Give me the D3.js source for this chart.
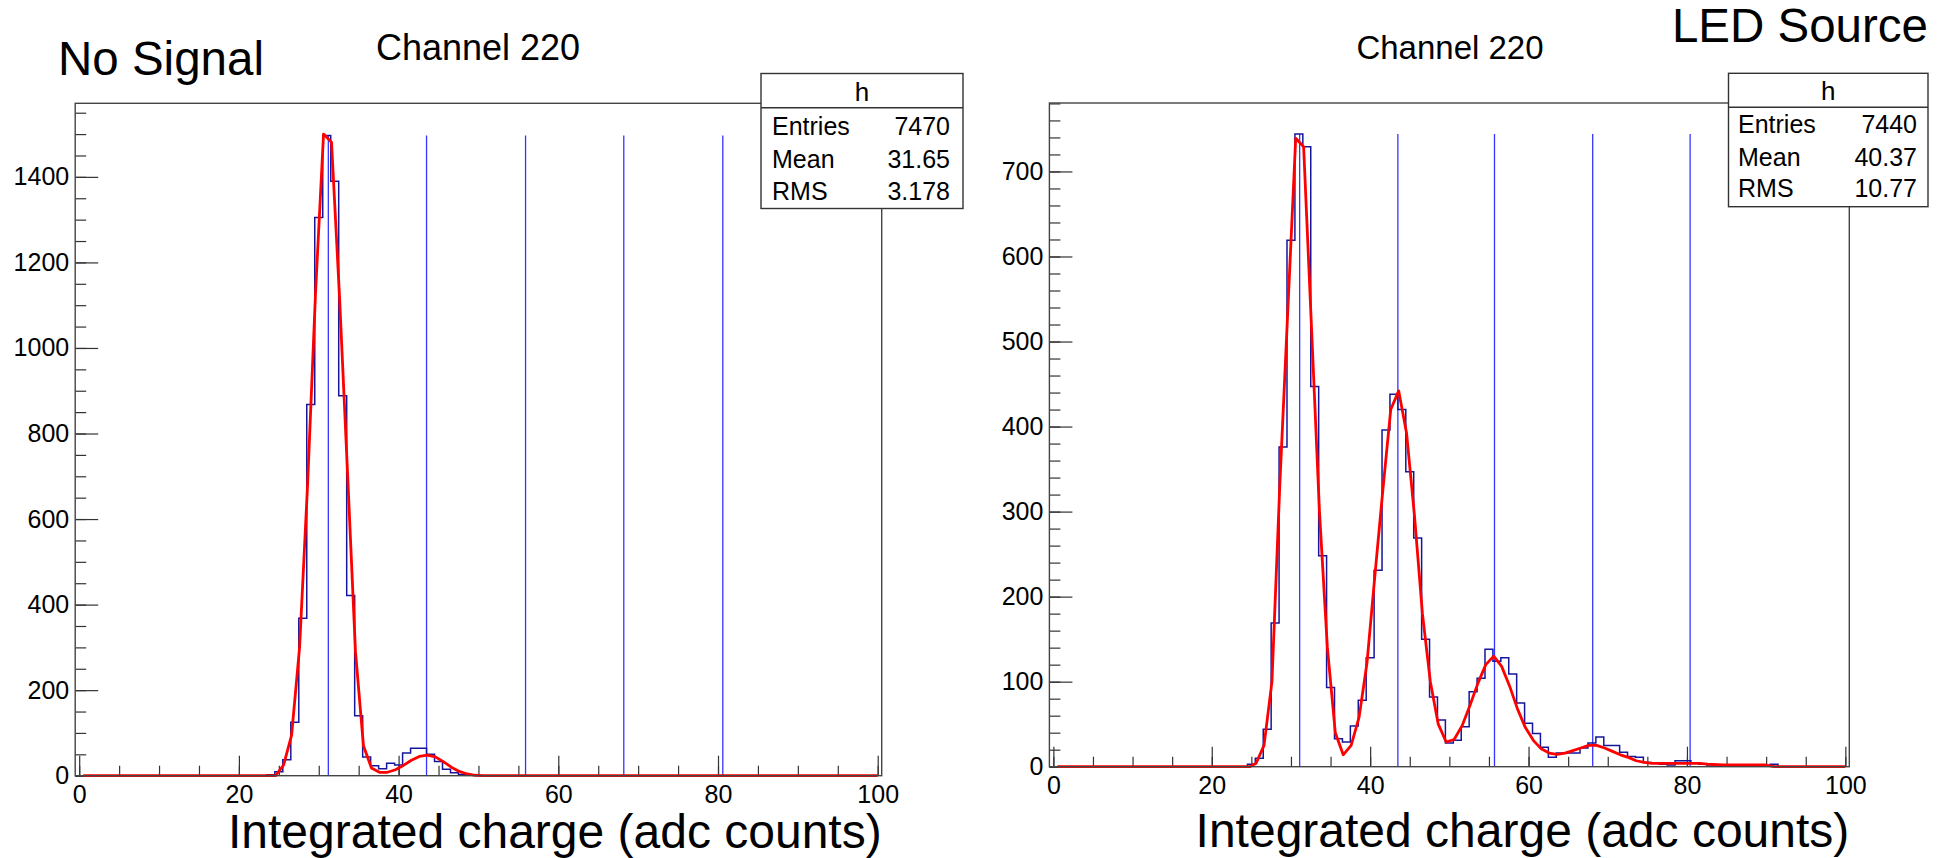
<!DOCTYPE html>
<html><head><meta charset="utf-8">
<script src="https://cdn.jsdelivr.net/npm/d3@7/dist/d3.min.js"></script>
<style>
body{margin:0;background:#fff;}
svg{display:block;}
text{font-family:"Liberation Sans",Arial,Helvetica,sans-serif;fill:#000;}
</style>
</head><body>
<svg id="c" width="1952" height="858"></svg>
<script>
// ---------------- DATA ----------------
const xTickValues = [0, 20, 40, 60, 80, 100];
const xAxisTitle = "Integrated charge (adc counts)";
const histTitle = "Channel 220";

// No Signal panel
const noSignalYTicks = [0, 200, 400, 600, 800, 1000, 1200, 1400];
const noSignalFirstBin = 24;
const noSignalCounts = [2, 9, 37, 125, 368, 868, 1305, 1497, 1390, 888, 421, 140, 44, 23, 16, 29, 25, 53, 64, 64, 50, 33, 15, 7, 3, 1];
const noSignalFitX = [0.5, 24.6, 25.6, 26.6, 27.6, 28.6, 29.6, 30.6, 31.6, 32.6, 33.6, 34.6, 35.6, 36.6, 37.6, 38.6, 39.6, 40.6, 41.6, 42.6, 43.6, 44.6, 45.6, 46.6, 47.6, 48.6, 49.6, 50.6, 100];
const noSignalFitY = [0, 0, 25, 95, 300, 680, 1130, 1500, 1481, 1120, 710, 290, 70, 18, 8, 8, 14, 24, 36, 45, 48, 44, 33, 20, 10, 4, 1, 0, 0];
const noSignalPeaks = [31.2, 43.5, 55.9, 68.2, 80.6];
const noSignalPeakTop = 1497;
const noSignalStatsLabels = ["Entries", "Mean", "RMS"];
const noSignalStatsValues = ["7470", "31.65", "3.178"];

// LED Source panel
const ledYTicks = [0, 100, 200, 300, 400, 500, 600, 700];
const ledFirstBin = 25;
const ledCounts = [3, 10, 44, 169, 376, 619, 744, 729, 447, 248,
  93, 33, 29, 48, 78, 128, 231, 396, 438, 420,
  347, 269, 150, 82, 55, 28, 31, 47, 88, 104,
  138, 124, 128, 109, 75, 51, 39, 23, 11, 16,
  16, 16, 22, 28, 35, 25, 25, 17, 12, 11,
  5, 4, 3, 2, 7, 7, 4, 3, 2, 1,
  1, 1, 2, 1, 1, 1, 3];
const ledFitX = [0.5, 24.8, 25.6, 26.6, 27.6, 28.6, 29.6, 30.6, 31.6, 32.6, 33.6, 34.6, 35.6, 36.6, 37.6, 38.6, 39.6, 40.6, 41.6, 42.6, 43.6, 44.6, 45.6, 46.6, 47.6, 48.6, 49.6, 50.6, 51.6, 52.6, 53.6, 54.6, 55.6, 56.6, 57.6, 58.6, 59.6, 60.6, 61.6, 62.6, 63.6, 64.6, 65.6, 66.6, 67.6, 68.6, 69.6, 70.6, 71.6, 72.6, 73.6, 74.6, 75.6, 81.6, 82.6, 84.6, 90, 91, 100];
const ledFitY = [0, 0, 4, 25, 100, 333, 536, 739, 729, 515, 300, 140, 40, 14, 25, 58, 122, 225, 325, 420, 442, 392, 295, 180, 100, 50, 29, 32, 48, 72, 98, 120, 130, 118, 95, 68, 46, 31, 21, 16, 14.5, 16, 19, 22, 25, 25, 22, 18, 14, 11, 7, 5, 4, 4, 3, 2, 2, 0, 0];
const ledPeaks = [31.1, 43.5, 55.7, 68.1, 80.4];
const ledPeakTop = 744;
const ledStatsLabels = ["Entries", "Mean", "RMS"];
const ledStatsValues = ["7440", "40.37", "10.77"];

// ---------------- DRAW ----------------
const svg = d3.select("#c");

function panel(cfg) {
  const g = svg.append("g");
  const x = d3.scaleLinear().domain([-0.5, 100.5]).range([cfg.left, cfg.right]);
  const y = d3.scaleLinear().domain([0, cfg.yMax]).range([cfg.bottom, cfg.top]);
  const clipId = "clip" + cfg.id;
  svg.append("clipPath").attr("id", clipId).append("rect")
    .attr("x", cfg.left).attr("y", cfg.top - 2).attr("width", cfg.right - cfg.left).attr("height", cfg.bottom - cfg.top + 4);

  // axis ticks (inward)
  const yMinorTicks = d3.range(0, cfg.yMax, cfg.yMinorStep);
  g.append("g").attr("transform", `translate(${cfg.left},0)`)
    .call(d3.axisLeft(y).tickValues(yMinorTicks).tickSize(-11).tickFormat(""))
    .call(s => { s.select(".domain").remove(); s.selectAll("line").attr("stroke", "#333").attr("stroke-width", 1.2); });
  g.append("g").attr("transform", `translate(${cfg.left},0)`)
    .call(d3.axisLeft(y).tickValues(cfg.yTicks).tickSize(-23).tickPadding(6).tickFormat(d3.format("d")))
    .call(s => {
      s.select(".domain").remove();
      s.selectAll("line").attr("stroke", "#333").attr("stroke-width", 1.2);
      s.selectAll("text").attr("font-size", 25).attr("font-family", "Liberation Sans, Arial, sans-serif").attr("fill", "#000");
    });
  const xMinorTicks = d3.range(0, 100.01, 5);
  g.append("g").attr("transform", `translate(0,${cfg.bottom})`)
    .call(d3.axisBottom(x).tickValues(xMinorTicks).tickSize(-10).tickFormat(""))
    .call(s => { s.select(".domain").remove(); s.selectAll("line").attr("stroke", "#333").attr("stroke-width", 1.2); });
  g.append("g").attr("transform", `translate(0,${cfg.bottom})`)
    .call(d3.axisBottom(x).tickValues(xTickValues).tickSize(-20).tickPadding(9.5).tickFormat(d3.format("d")))
    .call(s => {
      s.select(".domain").remove();
      s.selectAll("line").attr("stroke", "#333").attr("stroke-width", 1.2);
      s.selectAll("text").attr("font-size", 25).attr("font-family", "Liberation Sans, Arial, sans-serif").attr("fill", "#000");
    });

  // peak lines
  g.append("g").attr("clip-path", `url(#${clipId})`).selectAll("line").data(cfg.peaks).join("line")
    .attr("x1", d => x(d)).attr("x2", d => x(d))
    .attr("y1", y(0)).attr("y2", y(cfg.peakTop))
    .attr("stroke", "#3535ff").attr("stroke-width", 1.3);

  // histogram outline
  const pts = [[cfg.firstBin - 0.5, 0]];
  cfg.counts.forEach((c, i) => {
    const b = cfg.firstBin + i;
    pts.push([b - 0.5, c], [b + 0.5, c]);
  });
  pts.push([cfg.firstBin + cfg.counts.length - 0.5, 0]);
  g.append("path").attr("clip-path", `url(#${clipId})`)
    .attr("d", d3.line().x(d => x(d[0])).y(d => y(d[1]))(pts))
    .attr("fill", "none").attr("stroke", "#16169c").attr("stroke-width", 1.5);

  // fit curve
  const fitPts = cfg.fitX.map((v, i) => [v, cfg.fitY[i]]);
  g.append("path").attr("clip-path", `url(#${clipId})`)
    .attr("d", d3.line().x(d => x(d[0])).y(d => y(d[1]))(fitPts))
    .attr("fill", "none").attr("stroke", "#ff0000").attr("stroke-width", 2.8).attr("stroke-linejoin", "round");

  // frame
  g.append("rect").attr("x", cfg.left).attr("y", cfg.top).attr("width", cfg.right - cfg.left).attr("height", cfg.bottom - cfg.top)
    .attr("fill", "none").attr("stroke", "#444").attr("stroke-width", 1.4);

  // axis title
  g.append("text").attr("x", cfg.right).attr("y", cfg.titleY).attr("text-anchor", "end")
    .attr("font-size", 48).text(xAxisTitle);

  // hist title
  g.append("text").attr("x", cfg.htX).attr("y", cfg.htY).attr("text-anchor", "middle")
    .attr("font-size", cfg.htSize).text(histTitle);

  // stats box
  const sb = cfg.stats;
  const sg = g.append("g");
  sg.append("rect").attr("x", sb.x0).attr("y", sb.y0).attr("width", sb.x1 - sb.x0).attr("height", sb.y1 - sb.y0)
    .attr("fill", "#fff").attr("stroke", "#333").attr("stroke-width", 1.4);
  sg.append("line").attr("x1", sb.x0).attr("x2", sb.x1).attr("y1", sb.div).attr("y2", sb.div)
    .attr("stroke", "#333").attr("stroke-width", 1.4);
  sg.append("text").attr("x", (sb.x0 + sb.x1) / 2).attr("y", sb.hY).attr("text-anchor", "middle")
    .attr("font-size", 26).text("h");
  cfg.statsLabels.forEach((lab, i) => {
    sg.append("text").attr("x", sb.labX).attr("y", sb.rowY[i]).attr("font-size", 25).text(lab);
    sg.append("text").attr("x", sb.valX).attr("y", sb.rowY[i]).attr("text-anchor", "end").attr("font-size", 25).text(cfg.statsValues[i]);
  });
}

panel({
  id: "L", left: 75.2, right: 881.7, top: 103.3, bottom: 775.7, yMax: 1572, yMinorStep: 50,
  yTicks: noSignalYTicks, firstBin: noSignalFirstBin, counts: noSignalCounts,
  fitX: noSignalFitX, fitY: noSignalFitY, peaks: noSignalPeaks, peakTop: noSignalPeakTop,
  titleY: 848, htX: 478, htY: 60, htSize: 36,
  statsLabels: noSignalStatsLabels, statsValues: noSignalStatsValues,
  stats: {x0: 761, x1: 963, y0: 73.5, y1: 208.5, div: 107.7, hY: 101, labX: 772, valX: 950, rowY: [135, 168, 200]}
});

panel({
  id: "R", left: 1049.4, right: 1849.3, top: 103, bottom: 766.7, yMax: 780.5, yMinorStep: 20,
  yTicks: ledYTicks, firstBin: ledFirstBin, counts: ledCounts,
  fitX: ledFitX, fitY: ledFitY, peaks: ledPeaks, peakTop: ledPeakTop,
  titleY: 847, htX: 1450, htY: 59, htSize: 33,
  statsLabels: ledStatsLabels, statsValues: ledStatsValues,
  stats: {x0: 1728.5, x1: 1928, y0: 73.3, y1: 206.7, div: 107.3, hY: 100, labX: 1738, valX: 1917, rowY: [133.3, 165.7, 197.3]}
});

svg.append("text").attr("x", 58).attr("y", 75).attr("font-size", 47.5).text("No Signal");
svg.append("text").attr("x", 1928).attr("y", 42).attr("text-anchor", "end").attr("font-size", 47.5).text("LED Source");
</script>
</body></html>
